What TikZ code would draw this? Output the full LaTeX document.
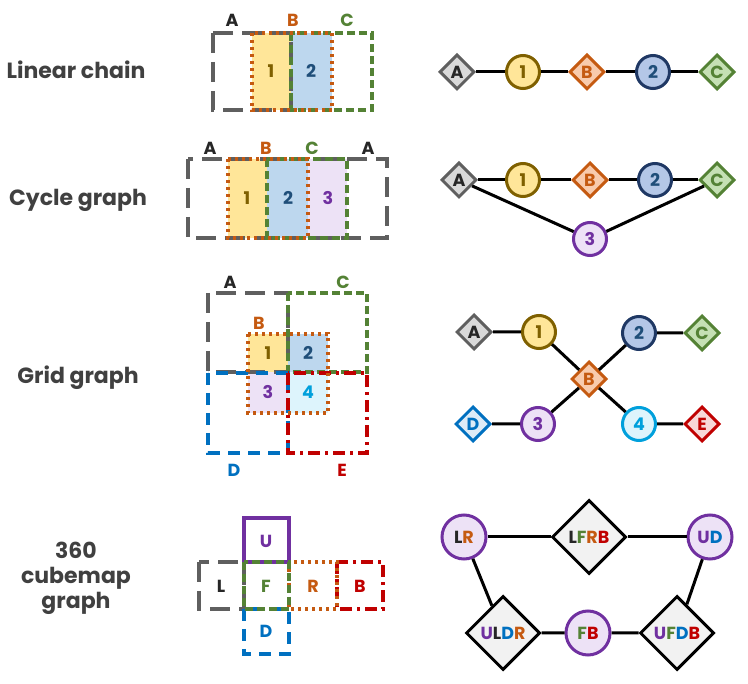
\documentclass[tikz,border=0pt]{standalone}
\usepackage{fontspec}
\setmainfont{Poppins}
\usetikzlibrary{shapes.geometric}

% couleurs
\definecolor{titlegray}{HTML}{404040}
\definecolor{cA}{HTML}{5F5F5F}
\definecolor{fA}{HTML}{D9D9D9}
\definecolor{tA}{HTML}{262626}
\definecolor{cOne}{HTML}{7F6000}
\definecolor{fOne}{HTML}{FFE699}
\definecolor{cB}{HTML}{C55A11}
\definecolor{fB}{HTML}{F8CBAD}
\definecolor{cTwo}{HTML}{1F3864}
\definecolor{tTwo}{HTML}{1F4E79}
\definecolor{fTwo}{HTML}{B4C7E7}
\definecolor{fTwoBox}{HTML}{BDD7EE}
\definecolor{cC}{HTML}{548235}
\definecolor{fC}{HTML}{C5E0B4}
\definecolor{cThree}{HTML}{7030A0}
\definecolor{fThree}{HTML}{EDE2F6}
\definecolor{cD}{HTML}{0070C0}
\definecolor{fD}{HTML}{DDEBF7}
\definecolor{cFour}{HTML}{00A0DC}
\definecolor{fFour}{HTML}{DDF4FC}
\definecolor{cE}{HTML}{C00000}
\definecolor{fE}{HTML}{F8D7D7}
\definecolor{fCube}{HTML}{F2F2F2}

\begin{document}
\begin{tikzpicture}[x=1pt, y=-1pt,
    title/.style={font=\bfseries\fontsize{22}{25}\selectfont, text=titlegray, align=center},
    lab/.style={font=\bfseries\fontsize{17.5}{19}\selectfont},
    boxA/.style={draw=cA, line width=3.5pt, dash pattern=on 20pt off 9pt},
    boxB/.style={draw=cB, line width=3.5pt, dash pattern=on 3pt off 4pt},
    boxC/.style={draw=cC, line width=3.5pt, dash pattern=on 8pt off 4pt},
    boxD/.style={draw=cD, line width=3.5pt, dash pattern=on 12pt off 8pt},
    boxE/.style={draw=cE, line width=3.5pt, dash pattern=on 12pt off 5pt on 3pt off 5pt},
    boxU/.style={draw=cThree, line width=3.5pt},
    vtx/.style={circle, line width=3pt, minimum size=33pt, inner sep=0pt, lab},
    sep/.style={diamond, line width=3pt, minimum width=35pt, minimum height=35pt, inner sep=0pt, lab},
    link/.style={line width=3pt}
]
\useasboundingbox (0,0) rectangle (748,684);

% Titres
\node[title] (tLin) at (76,70) {Linear chain};
\node[title] (tCyc) at (78,200) {Cycle graph};
\node[title] (tGrid) at (78,378) {Grid graph};
\node[title] (tCube) at (76,578) {360\\cubemap\\graph};

% ---------- Linear chain : boites ----------
\fill[fOne] (252,33) rectangle (291,110);
\fill[fTwoBox] (291,33) rectangle (332,110);
\draw[boxA] (213,33) rectangle (291,110);
\draw[boxC] (291,33) rectangle (372,110);
\draw[boxB] (252,33) rectangle (332,110);
\node[lab, text=tA] (lA) at (232,20) {A};
\node[lab, text=cB] (lB) at (293,20) {B};
\node[lab, text=cC] (lC) at (347,20) {C};
\node[lab, text=cOne] (n1) at (271,71) {1};
\node[lab, text=tTwo] (n2) at (311,71) {2};

% ---------- Cycle graph : boites ----------
\fill[fOne] (228,159) rectangle (267,238);
\fill[fTwoBox] (267,159) rectangle (308,238);
\fill[fThree] (308,159) rectangle (347,238);
\draw[boxA] (188,159) rectangle (387,238);
\draw[boxC] (267,159) rectangle (347,238);
\draw[boxB] (228,159) rectangle (308,238);
\node[lab, text=tA] (cyA) at (210,148) {A};
\node[lab, text=cB] (cyB) at (266,148) {B};
\node[lab, text=cC] (cyC) at (312,148) {C};
\node[lab, text=tA] (cyA2) at (368,148) {A};
\node[lab, text=cOne] (c1) at (247,198) {1};
\node[lab, text=tTwo] (c2) at (288,198) {2};
\node[lab, text=cThree] (c3) at (328,198) {3};

% ---------- Grid graph : boites ----------
\fill[fOne] (248,334) rectangle (288,372);
\fill[fTwoBox] (288,334) rectangle (328,372);
\fill[fThree] (248,372) rectangle (288,413);
\fill[fFour] (288,372) rectangle (328,413);
\draw[boxA] (208,293) rectangle (288,372);
\draw[boxC] (288,293) rectangle (367,372);
\draw[boxD] (208,373) rectangle (288,453);
\draw[boxE] (288,373) rectangle (367,453);
\draw[boxB] (248,334) rectangle (328,413);
\node[lab, text=tA] (gA) at (230,282) {A};
\node[lab, text=cC] (gC) at (343,282) {C};
\node[lab, text=cB] (gB) at (259,323) {B};
\node[lab, text=cD] (gD) at (234,470) {D};
\node[lab, text=cE] (gE) at (342,470) {E};
\node[lab, text=cOne] (g1) at (268,353) {1};
\node[lab, text=tTwo] (g2) at (308,353) {2};
\node[lab, text=cThree] (g3) at (268,392) {3};
\node[lab, text=cFour] (g4) at (308,392) {4};

% ---------- Cubemap : faces ----------
\draw[boxU] (244,518) rectangle (289,562);
\draw[boxA] (199,562) rectangle (244,609);
\draw[boxD] (244,609) rectangle (289,654);
\draw[boxE] (337,562) rectangle (383,609);
\draw[boxB] (289,562) rectangle (337,609);
\draw[boxC] (244,562) rectangle (289,609);
\node[lab, text=cThree] (fU) at (266,541) {U};
\node[lab, text=tA] (fL) at (221,586) {L};
\node[lab, text=cC] (fF) at (266,586) {F};
\node[lab, text=cB] (fR) at (313,586) {R};
\node[lab, text=cE] (fBk) at (360,586) {B};
\node[lab, text=cD] (fDn) at (266,631) {D};

% ---------- Linear chain : graphe ----------
\node[sep, draw=cA, fill=fA, text=tA] (LA) at (457,72) {A};
\node[vtx, draw=cOne, fill=fOne, text=cOne] (L1) at (523,72) {1};
\node[sep, draw=cB, fill=fB, text=cB] (LB) at (587,72) {B};
\node[vtx, draw=cTwo, fill=fTwo, text=tTwo] (L2) at (653,72) {2};
\node[sep, draw=cC, fill=fC, text=cC] (LC) at (717,72) {C};
\draw[link] (LA) -- (L1) -- (LB) -- (L2) -- (LC);

% ---------- Cycle graph : graphe ----------
\node[sep, draw=cA, fill=fA, text=tA] (CA) at (459,180) {A};
\node[vtx, draw=cOne, fill=fOne, text=cOne] (C1) at (523,180) {1};
\node[sep, draw=cB, fill=fB, text=cB] (CB) at (590,180) {B};
\node[vtx, draw=cTwo, fill=fTwo, text=tTwo] (C2) at (655,180) {2};
\node[sep, draw=cC, fill=fC, text=cC] (CC) at (717,180) {C};
\node[vtx, draw=cThree, fill=fThree, text=cThree] (C3) at (590,239) {3};
\draw[link] (CA) -- (C1) -- (CB) -- (C2) -- (CC);
\draw[link] (CA) -- (C3) -- (CC);

% ---------- Grid graph : graphe ----------
\node[sep, draw=cA, fill=fA, text=tA] (GA) at (474,332) {A};
\node[vtx, draw=cOne, fill=fOne, text=cOne] (G1) at (539,332) {1};
\node[vtx, draw=cTwo, fill=fTwo, text=tTwo] (G2) at (639,333) {2};
\node[sep, draw=cC, fill=fC, text=cC] (GC) at (702,333) {C};
\node[sep, draw=cB, fill=fB, text=cB] (GB) at (589,379) {B};
\node[sep, draw=cD, fill=fD, text=cD] (GD) at (473,424) {D};
\node[vtx, draw=cThree, fill=fThree, text=cThree] (G3) at (538,424) {3};
\node[vtx, draw=cFour, fill=fFour, text=cFour] (G4) at (639,424) {4};
\node[sep, draw=cE, fill=fE, text=cE] (GE) at (702,424) {E};
\draw[link] (GA) -- (G1) -- (GB) -- (G2) -- (GC);
\draw[link] (GD) -- (G3) -- (GB) -- (G4) -- (GE);

% ---------- Cubemap : graphe ----------
\node[vtx, minimum size=44pt, draw=cThree, fill=fThree] (QLR) at (464,537)
    {\textcolor{tA}{L}\textcolor{cB}{R}};
\node[sep, minimum width=74pt, minimum height=74pt, draw=black, fill=fCube] (QLFRB) at (589,537)
    {\textcolor{tA}{L}\textcolor{cC}{F}\textcolor{cB}{R}\textcolor{cE}{B}};
\node[vtx, minimum size=44pt, draw=cThree, fill=fThree] (QUD) at (710,537)
    {\textcolor{cThree}{U}\textcolor{cD}{D}};
\node[sep, minimum width=74pt, minimum height=74pt, draw=black, fill=fCube] (QULDR) at (503,633)
    {\textcolor{cThree}{U}\textcolor{tA}{L}\textcolor{cD}{D}\textcolor{cB}{R}};
\node[vtx, minimum size=44pt, draw=cThree, fill=fThree] (QFB) at (588,633)
    {\textcolor{cC}{F}\textcolor{cE}{B}};
\node[sep, minimum width=74pt, minimum height=74pt, draw=black, fill=fCube] (QUFDB) at (677,633)
    {\textcolor{cThree}{U}\textcolor{cC}{F}\textcolor{cD}{D}\textcolor{cE}{B}};
\draw[link] (QLR) -- (QLFRB) -- (QUD);
\draw[link] (QLR) -- (QULDR) -- (QFB) -- (QUFDB) -- (QUD);
\end{tikzpicture}
\end{document}
